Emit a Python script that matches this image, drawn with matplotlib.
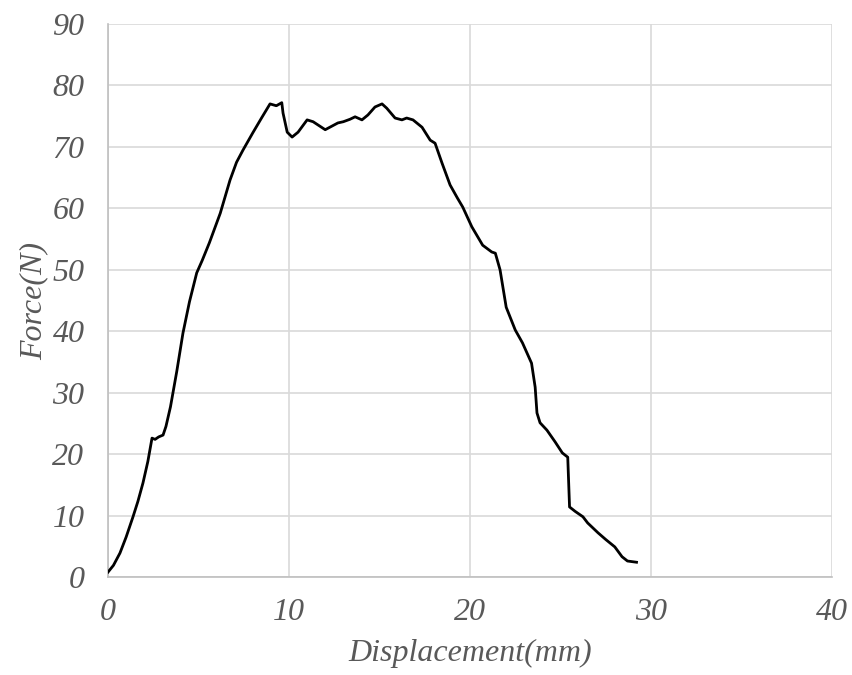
#!/usr/bin/env python3
"""
Force vs displacement curve, single test specimen.
Values read by eye off the original chart.
"""
import matplotlib
matplotlib.use("Agg")
import matplotlib.pyplot as plt

# ── Data (mm, N) ──────────────────────────────────────────────────────────────
DISPLACEMENT = [
    0.0, 0.3, 0.66, 1.0, 1.38, 1.65, 1.93, 2.2, 2.43, 2.6, 2.8, 3.04, 3.2,
    3.45, 3.8, 4.14, 4.5, 4.9, 5.2, 5.6, 6.2, 6.74, 7.1, 7.46, 8.0, 8.5,
    8.95, 9.3, 9.6, 9.67, 9.9, 10.17, 10.5, 11.0, 11.33, 12.0, 12.7, 13.0,
    13.37, 13.65, 14.03, 14.36, 14.75, 15.14, 15.4, 15.86, 16.24, 16.5,
    16.85, 17.35, 17.8, 18.07, 18.45, 18.9, 19.3, 19.6, 20.1, 20.7, 21.2,
    21.4, 21.66, 22.0, 22.5, 22.9, 23.4, 23.6, 23.7, 23.87, 24.25, 24.7,
    25.1, 25.4, 25.5, 25.8, 26.24, 26.5, 27.07, 27.5, 28.0, 28.4, 28.7, 29.2,
]
FORCE = [
    0.8, 1.9, 3.9, 6.5, 9.8, 12.3, 15.3, 18.8, 22.6, 22.4, 22.8, 23.1, 24.5,
    27.7, 33.5, 39.7, 44.8, 49.5, 51.5, 54.4, 59.2, 64.6, 67.5, 69.5, 72.3, 74.8,
    77.0, 76.7, 77.2, 75.5, 72.4, 71.6, 72.4, 74.4, 74.1, 72.8, 73.9, 74.1,
    74.5, 74.9, 74.4, 75.2, 76.5, 77.0, 76.3, 74.7, 74.4, 74.7,
    74.4, 73.2, 71.1, 70.6, 67.4, 63.8, 61.7, 60.2, 57.0, 54.0, 52.9,
    52.7, 50.0, 43.9, 40.2, 38.1, 34.8, 30.9, 26.7, 25.1, 23.9, 22.0,
    20.2, 19.5, 11.4, 10.7, 9.8, 8.8, 7.2, 6.1, 4.9, 3.3, 2.6, 2.4,
]
X_TICKS = [0, 10, 20, 30, 40]
Y_TICKS = [0, 10, 20, 30, 40, 50, 60, 70, 80, 90]

TEXT_GREY = "#595959"
GRID_GREY = "#d9d9d9"
FONT = {"family": "Liberation Serif", "style": "italic", "color": TEXT_GREY}


def main():
    fig = plt.figure(figsize=(8.52, 6.75), dpi=100)
    ax = fig.add_axes([0.1268, 0.1452, 0.8497, 0.8192])

    ax.plot(DISPLACEMENT, FORCE, color="black", linewidth=2.0,
            solid_joinstyle="round", zorder=3)

    ax.set_xlim(0, 40)
    ax.set_ylim(0, 90)
    ax.set_xticks(X_TICKS)
    ax.set_yticks(Y_TICKS)
    ax.grid(True, color=GRID_GREY, linewidth=1.2, zorder=0)
    ax.tick_params(length=0)
    ax.tick_params(axis="x", pad=15)
    ax.tick_params(axis="y", pad=17)

    for lbl in ax.get_xticklabels() + ax.get_yticklabels():
        lbl.set_fontfamily("Liberation Serif")
        lbl.set_fontstyle("italic")
        lbl.set_fontsize(23)
        lbl.set_color(TEXT_GREY)

    for side in ("top", "right"):
        ax.spines[side].set_visible(False)
    for side in ("left", "bottom"):
        ax.spines[side].set_color("#bfbfbf")
        ax.spines[side].set_linewidth(1.2)

    ax.set_xlabel("Displacement(mm)", fontsize=23, labelpad=9, **FONT)
    ax.set_ylabel("Force(N)", fontsize=23, labelpad=3, **FONT)

    fig.savefig("out.png", dpi=100)


if __name__ == "__main__":
    main()
